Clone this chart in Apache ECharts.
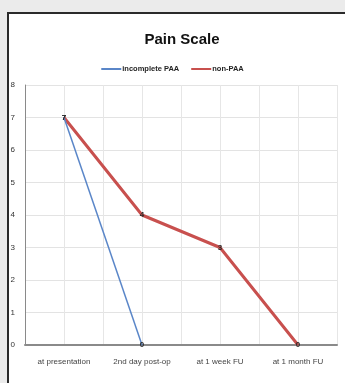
<!DOCTYPE html>
<html>
<head>
<meta charset="utf-8">
<script src="https://cdn.jsdelivr.net/npm/echarts@6/dist/echarts.min.js"></script>
<style>
  html, body { margin: 0; padding: 0; background: #ebebeb; }
  #frame {
    position: absolute; left: 7px; top: 12px; width: 345px; height: 380px;
    background: #ffffff; border: 2px solid #2a2a2a; box-sizing: border-box;
  }
  #chart { position: absolute; left: 0; top: 0; width: 345px; height: 383px; }
</style>
</head>
<body>
<div id="frame"></div>
<div id="chart"></div>
<script>
const categories = ['at presentation', '2nd day post-op', 'at 1 week FU', 'at 1 month FU']
const incompletePAA = [7, 0, null, null]
const nonPAA = [7, 4, 3, 0]
const yTicks = [0, 1, 2, 3, 4, 5, 6, 7, 8]

const font = "'Liberation Sans', Arial, sans-serif"

const chart = echarts.init(document.getElementById('chart'))

const pointLabel = {
    show: true,
    position: 'inside',
    fontSize: 8,
    fontWeight: 'bold',
    color: '#2a2a2a',
    fontFamily: font
}

const option = {
    backgroundColor: 'transparent',
    title: {
        text: 'Pain Scale',
        left: 177,
        textAlign: 'center',
        top: 27,
        textStyle: { fontSize: 15, fontWeight: 'bold', color: '#111', fontFamily: font }
    },
    legend: {
        top: 60,
        left: 'center',
        itemWidth: 20,
        itemHeight: 2,
        itemGap: 12,
        icon: 'rect',
        textStyle: { fontSize: 7.5, fontWeight: 'bold', color: '#222', fontFamily: font, padding: [0, 0, 0, -4] },
        data: ['incomplete PAA', 'non-PAA']
    },
    grid: { left: 25, right: 8, top: 85, bottom: 38 },
    xAxis: [
        {
            type: 'category',
            data: categories,
            boundaryGap: true,
            axisLine: { lineStyle: { color: '#8a8a8a', width: 2 } },
            axisTick: { show: false },
            splitLine: { show: false },
            axisLabel: { interval: 0, fontSize: 8, color: '#444', margin: 13, fontFamily: font }
        },
        {
            type: 'category',
            data: ['', '', '', '', '', '', '', ''],
            boundaryGap: true,
            position: 'bottom',
            axisLine: { show: false },
            axisTick: { show: false },
            axisLabel: { show: false },
            splitLine: { show: true, interval: 0, lineStyle: { color: '#e6e6e6', width: 1 } }
        }
    ],
    yAxis: {
        type: 'value',
        min: yTicks[0],
        max: yTicks[yTicks.length - 1],
        interval: 1,
        axisLine: { show: true, lineStyle: { color: '#8a8a8a', width: 1 } },
        axisTick: { show: false },
        axisLabel: { fontSize: 8, color: '#333', margin: 10, fontFamily: font },
        splitLine: { lineStyle: { color: '#e3e3e3' } }
    },
    series: [
        {
            name: 'incomplete PAA',
            type: 'line',
            data: incompletePAA,
            symbol: 'circle',
            symbolSize: 1,
            showSymbol: true,
            color: '#5a86c8',
            lineStyle: { width: 1.5, color: '#5a86c8' },
            label: pointLabel,
            z: 3
        },
        {
            name: 'non-PAA',
            type: 'line',
            data: nonPAA,
            symbol: 'circle',
            symbolSize: 1,
            showSymbol: true,
            color: '#c8504e',
            lineStyle: { width: 3, color: '#c8504e' },
            label: pointLabel,
            z: 2
        }
    ]
}

chart.setOption(option)
</script>
</body>
</html>
